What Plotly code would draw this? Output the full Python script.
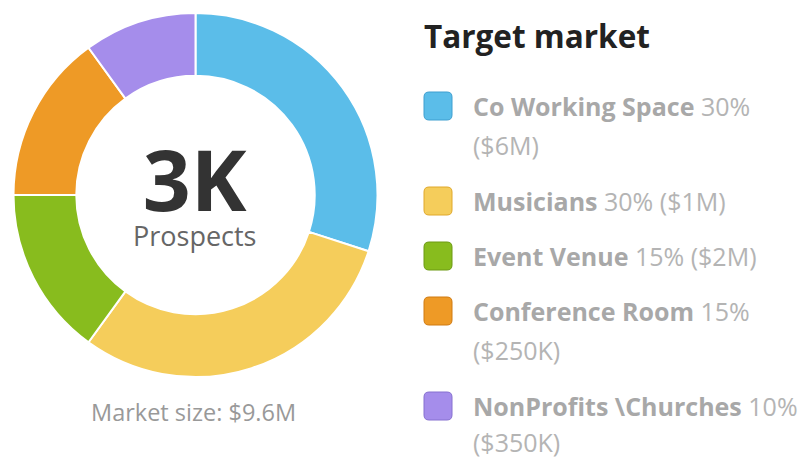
import plotly.graph_objects as go

# Target market segments
segments = ["Co Working Space", "Musicians", "Event Venue", "Conference Room", "NonProfits \\Churches"]
shares = [30, 30, 15, 15, 10]
market_values = ["$6M", "$1M", "$2M", "$250K", "$350K"]
colors = ["#5BBDE9", "#F5CD5B", "#88BC1E", "#EE9A26", "#A58DEB"]
borders = ["#3F9FD0", "#E0A82A", "#6C9A12", "#D07A10", "#8670D0"]

prospects_label = "3K"
market_size_label = "$9.6M"

W, H = 807, 460
FONT = "Open Sans"


def px_x(v):
    return v / W


def px_y(v):
    return 1 - v / H


fig = go.Figure()

fig.add_trace(go.Pie(
    values=shares,
    labels=segments,
    marker=dict(colors=colors, line=dict(color="white", width=2)),
    hole=0.655,
    sort=False,
    direction="clockwise",
    rotation=0,
    textinfo="none",
    hoverinfo="label+percent",
    showlegend=False,
    domain=dict(x=[px_x(13.5), px_x(377.5)], y=[px_y(377), px_y(13)]),
))

annotations = [
    # big count and its caption in the hole, as one text block
    dict(x=px_x(195), y=px_y(187),
         text=(f"<b><span style='font-size:84px;color:#333333'>{prospects_label}</span></b>"
               "<br>Prospects"),
         font=dict(family=FONT, size=27, color="#666666")),
    dict(x=px_x(193), y=px_y(412), text=f"Market size: {market_size_label}",
         font=dict(family=FONT, size=23.5, color="#999999")),
    dict(x=px_x(422), y=px_y(35), text="<b>Target market</b>", xanchor="left",
         font=dict(family=FONT, size=31.5, color="#222222")),
]

shapes = []

# legend rows: entries that run past the column wrap their value onto a second line
wrap_value = [True, False, False, True, True]
row_y = 106
for i, (name, pct, val, col, bcol, wrap) in enumerate(
        zip(segments, shares, market_values, colors, borders, wrap_value)):
    # rounded swatch
    x0, x1 = 424, 452
    y0, y1 = row_y - 14, row_y + 14
    r = 5
    pts = [
        f"M {px_x(x0 + r)},{px_y(y0)}",
        f"L {px_x(x1 - r)},{px_y(y0)}",
        f"Q {px_x(x1)},{px_y(y0)} {px_x(x1)},{px_y(y0 + r)}",
        f"L {px_x(x1)},{px_y(y1 - r)}",
        f"Q {px_x(x1)},{px_y(y1)} {px_x(x1 - r)},{px_y(y1)}",
        f"L {px_x(x0 + r)},{px_y(y1)}",
        f"Q {px_x(x0)},{px_y(y1)} {px_x(x0)},{px_y(y1 - r)}",
        f"L {px_x(x0)},{px_y(y0 + r)}",
        f"Q {px_x(x0)},{px_y(y0)} {px_x(x0 + r)},{px_y(y0)} Z",
    ]
    shapes.append(dict(type="path", xref="paper", yref="paper", path=" ".join(pts),
                       fillcolor=col, line=dict(color=bcol, width=1)))

    pct_txt = f"<span style='color:#B4B4B4'>{pct}%</span>"
    val_txt = f"<span style='color:#B4B4B4'>({val})</span>"
    if wrap:
        first = f"<b>{name}</b> {pct_txt}"
    else:
        first = f"<b>{name}</b> {pct_txt} {val_txt}"
    annotations.append(dict(x=px_x(471), y=px_y(row_y), text=first, xanchor="left",
                            font=dict(family=FONT, size=25, color="#A8A8A8")))
    if wrap:
        # keep the last wrapped line clear of the bottom edge
        gap = 36 if i == len(segments) - 1 else 39
        annotations.append(dict(x=px_x(471), y=px_y(row_y + gap), text=val_txt, xanchor="left",
                                font=dict(family=FONT, size=25, color="#B4B4B4")))
        row_y += 95
    else:
        row_y += 55

for a in annotations:
    a.setdefault("xref", "paper")
    a.setdefault("yref", "paper")
    a.setdefault("showarrow", False)
    a.setdefault("xanchor", "center")
    a.setdefault("yanchor", "middle")

fig.update_layout(
    width=W, height=H,
    margin=dict(l=0, r=0, t=0, b=0),
    paper_bgcolor="white",
    plot_bgcolor="white",
    annotations=annotations,
    shapes=shapes,
    showlegend=False,
)

fig.write_html("out.html")
